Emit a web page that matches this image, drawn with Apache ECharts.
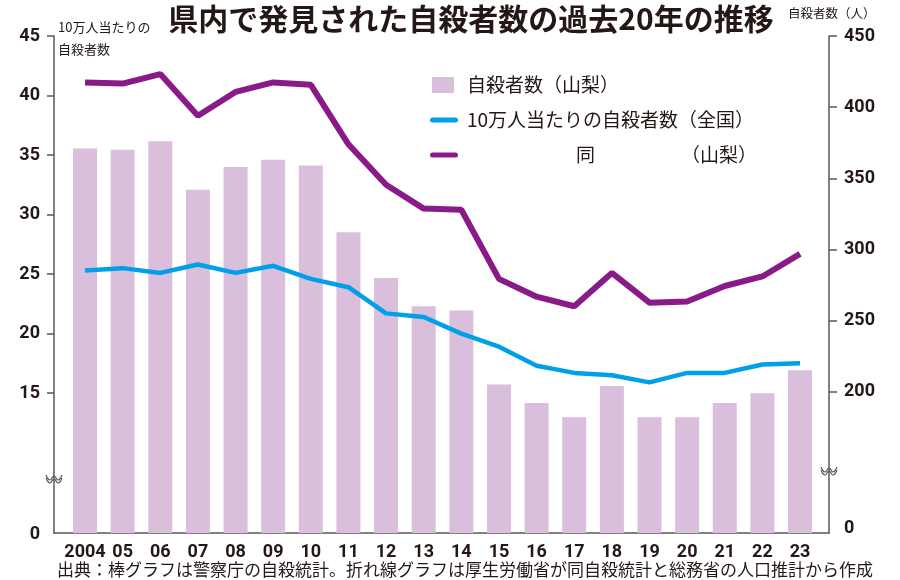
<!DOCTYPE html>
<html><head><meta charset="utf-8">
<script src="https://cdn.jsdelivr.net/npm/echarts@6.0.0/dist/echarts.min.js"></script>
<style>html,body{margin:0;padding:0;background:#fff}#c{width:900px;height:580px}</style>
</head><body><div id="c"></div>
<script>
// ---- data ----
const years = [2004,2005,2006,2007,2008,2009,2010,2011,2012,2013,2014,2015,2016,2017,2018,2019,2020,2021,2022,2023];
const xTickLabels = ['2004','05','06','07','08','09','10','11','12','13','14','15','16','17','18','19','20','21','22','23'];
const suicideCount = [371,370,376,342,358,363,359,312,280,260,257,205,192,182,204,182,182,192,199,215];
const nationalRate = [25.3,25.5,25.1,25.8,25.1,25.7,24.6,23.9,21.7,21.4,20.0,18.9,17.3,16.7,16.5,15.9,16.7,16.7,17.4,17.5];
const yamanashiRate = [41.1,41.0,41.8,38.3,40.3,41.1,40.9,35.9,32.5,30.5,30.4,24.6,23.1,22.3,25.1,22.6,22.7,24.0,24.8,26.7];
const leftTicks = [15,20,25,30,35,40,45];
const rightTicks = [200,250,300,350,400,450];
const seriesNames = ['自殺者数（山梨）','10万人当たりの自殺者数（全国）','同（山梨）'];
const titleText = '県内で発見された自殺者数の過去20年の推移';
const leftAxisTitle = ['10万人当たりの','自殺者数'];
const rightAxisTitle = '自殺者数（人）';
const noteText = '出典：棒グラフは警察庁の自殺統計。折れ線グラフは厚生労働省が同自殺統計と総務省の人口推計から作成';

// axis break: the bottom of each axis is labelled 0
const LEFT_MIN = 3.25, RIGHT_MIN = 100.7;

const INK = '#231815', AXIS = '#595757';
const NUMFONT = "Roboto,'Liberation Sans',sans-serif";
const JP = "'Noto Sans CJK JP','Noto Sans',sans-serif";

function breakMark(cx, cy) {
  const top = [[-8,-3],[-4,2],[0,-2],[4,2],[8,-3]];
  const bot = top.map(p => [p[0], p[1] + 3]);
  return {
    type: 'group', x: cx, y: cy, z: 100,
    children: [
      { type: 'polygon', shape: { points: top.concat(bot.slice().reverse()), smooth: 0 }, style: { fill: '#fff', stroke: null } },
      { type: 'polyline', shape: { points: top, smooth: 0.5 }, style: { stroke: AXIS, lineWidth: 1.2, fill: null } },
      { type: 'polyline', shape: { points: bot, smooth: 0.5 }, style: { stroke: AXIS, lineWidth: 1.2, fill: null } }
    ]
  };
}

const numLabel = { fontFamily: NUMFONT, fontWeight: 'bold', fontSize: 18, color: INK };

const chart = echarts.init(document.getElementById('c'), null, { renderer: 'canvas' });
chart.setOption({
  backgroundColor: '#fff',
  animation: false,
  grid: { left: 54, right: 71, top: 36, bottom: 47, containLabel: false, outerBoundsMode: 'none' },
  xAxis: {
    type: 'value', min: 2003.176, max: 2023.77,
    axisLine: { show: true, onZero: false, lineStyle: { color: AXIS, width: 1.5 } },
    axisTick: { show: false },
    splitLine: { show: false },
    axisLabel: Object.assign({
      customValues: years,
      formatter: v => xTickLabels[years.indexOf(v)],
      margin: 10
    }, numLabel)
  },
  yAxis: [
    {
      type: 'value', position: 'left', min: LEFT_MIN, max: 45,
      axisLine: { show: true, onZero: false, lineStyle: { color: AXIS, width: 1.5 } },
      axisTick: { show: true, length: 7, customValues: leftTicks, lineStyle: { color: AXIS, width: 1.5 } },
      splitLine: { show: false },
      axisLabel: Object.assign({
        customValues: [LEFT_MIN].concat(leftTicks),
        formatter: v => v === LEFT_MIN ? '{z|0}' : String(v),
        rich: { z: Object.assign({ padding: [3,0,0,0] }, numLabel) },
        margin: 14
      }, numLabel)
    },
    {
      type: 'value', position: 'right', min: RIGHT_MIN, max: 450,
      axisLine: { show: true, onZero: false, lineStyle: { color: AXIS, width: 1.5 } },
      axisTick: { show: true, length: 8, customValues: rightTicks, lineStyle: { color: AXIS, width: 1.5 } },
      splitLine: { show: false },
      axisLabel: Object.assign({
        customValues: [RIGHT_MIN].concat(rightTicks),
        formatter: v => v === RIGHT_MIN ? '{z|0}' : String(v),
        rich: { z: Object.assign({ padding: [0,0,10,0] }, numLabel) },
        margin: 15
      }, numLabel)
    }
  ],
  legend: {
    orient: 'vertical', left: 430, top: 74, padding: 0,
    itemWidth: 28, itemHeight: 16, itemGap: 13, selectedMode: false,
    textStyle: {
      fontFamily: JP, fontSize: 19, color: INK, lineHeight: 22, padding: [0,0,0,4],
      rich: {
        a: { fontFamily: JP, fontSize: 19, color: INK, width: 128, align: 'right' },
        b: { fontFamily: JP, fontSize: 19, color: INK, width: 162, align: 'right' }
      }
    },
    formatter: name => name === seriesNames[2] ? '{a|同}{b|（山梨）}' : name,
    data: [
      { name: seriesNames[0], icon: 'path://M0,0M28,16M2,0L24,0L24,16L2,16Z' },
      { name: seriesNames[1], icon: 'path://M0,0M28,16M2.5,5.5L25.5,5.5A2.5,2.5,0,0,1,25.5,10.5L2.5,10.5A2.5,2.5,0,0,1,2.5,5.5Z' },
      { name: seriesNames[2], icon: 'path://M0,0M28,16M2.5,5.5L25.5,5.5A2.5,2.5,0,0,1,25.5,10.5L2.5,10.5A2.5,2.5,0,0,1,2.5,5.5Z' }
    ]
  },
  series: [
    {
      name: seriesNames[0], type: 'bar', yAxisIndex: 1, barWidth: 24,
      itemStyle: { color: '#d9bfdc' },
      data: years.map((y, i) => [y, suicideCount[i]]), z: 2
    },
    {
      name: seriesNames[1], type: 'line', yAxisIndex: 0, symbol: 'none',
      lineStyle: { color: '#00a0e9', width: 4.5 }, itemStyle: { color: '#00a0e9' },
      data: years.map((y, i) => [y, nationalRate[i]]), z: 3
    },
    {
      name: seriesNames[2], type: 'line', yAxisIndex: 0, symbol: 'none',
      lineStyle: { color: '#8a1a88', width: 6 }, itemStyle: { color: '#8a1a88' },
      data: years.map((y, i) => [y, yamanashiRate[i]]), z: 4
    }
  ],
  graphic: [
    { type: 'text', x: 471, y: 19, style: { text: titleText, font: "bold 30px " + JP, fill: INK, align: 'center', verticalAlign: 'middle' } },
    { type: 'text', x: 58, y: 27, style: { text: leftAxisTitle[0], font: "13px " + JP, fill: INK, align: 'left', verticalAlign: 'middle' } },
    { type: 'text', x: 58, y: 49, style: { text: leftAxisTitle[1], font: "13px " + JP, fill: INK, align: 'left', verticalAlign: 'middle' } },
    { type: 'text', x: 788, y: 13, style: { text: rightAxisTitle, font: "12.5px " + JP, fill: INK, align: 'left', verticalAlign: 'middle' } },
    { type: 'text', x: 57, y: 570, style: { text: noteText, font: "17px " + JP, fill: INK, align: 'left', verticalAlign: 'middle' } },
    breakMark(54, 478),
    breakMark(829, 470)
  ]
});
</script>
</body></html>
